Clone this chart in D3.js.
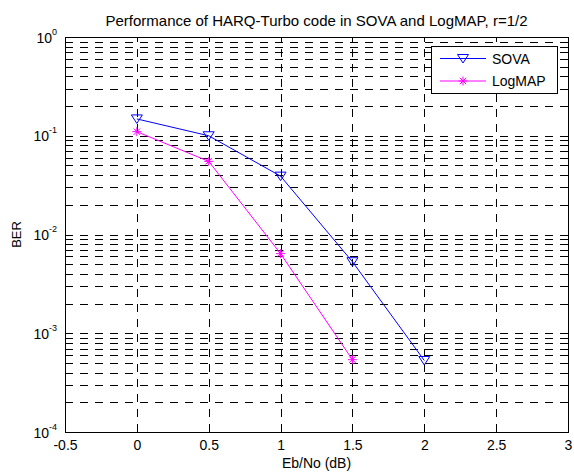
<!DOCTYPE html>
<html>
<head>
<meta charset="utf-8">
<script src="https://cdn.jsdelivr.net/npm/d3@7"></script>
<style>
  body { margin: 0; background: #fff; }
  text { font-family: "Liberation Sans", Arial, Helvetica, sans-serif; fill: #000; }
</style>
</head>
<body>
<div id="chart"></div>
<script>
// values
const ebnoSova = [0, 0.5, 1, 1.5, 2];
const berSova = [0.148, 0.100, 0.039, 0.0053, 0.00053];
const ebnoLogmap = [0, 0.5, 1, 1.5];
const berLogmap = [0.11, 0.055, 0.0064, 0.00054];

const seriesNames = ["SOVA", "LogMAP"];
const seriesColors = ["#0000ff", "#ff00ff"];

const xTicks = [-0.5, 0, 0.5, 1, 1.5, 2, 2.5, 3];
const xTickLabels = ["-0.5", "0", "0.5", "1", "1.5", "2", "2.5", "3"];
const yDecades = [1e-4, 1e-3, 1e-2, 1e-1, 1];
const yExponents = ["-4", "-3", "-2", "-1", "0"];

const svgWidth = 574;
const svgHeight = 472;
const margin = { top: 37, right: 6, bottom: 40, left: 65 };
const width = svgWidth - margin.left - margin.right;
const height = svgHeight - margin.top - margin.bottom;

const svg = d3.select("#chart")
  .append("svg")
  .attr("width", svgWidth)
  .attr("height", svgHeight);

svg.append("rect").attr("width", svgWidth).attr("height", svgHeight).attr("fill", "#fff");

const chartGroup = svg.append("g")
  .attr("transform", `translate(${margin.left}, ${margin.top})`);

const x = d3.scaleLinear().domain([-0.5, 3]).range([0, width]);
const y = d3.scaleLog().domain([1e-4, 1]).range([height, 0]);

// minor log ticks 2..9 in every decade
let yMinor = [];
yDecades.slice(0, -1).forEach(d => {
  for (let m = 2; m <= 9; m++) yMinor.push(m * d);
});

// grid (dashed)
const xGrid = chartGroup.append("g")
  .attr("transform", `translate(0, ${height})`)
  .call(d3.axisBottom(x).tickValues(xTicks.slice(1, -1)).tickSize(-height).tickFormat(""));
const yGrid = chartGroup.append("g")
  .call(d3.axisLeft(y).tickValues(yDecades.slice(1, -1).concat(yMinor)).tickSize(-width).tickFormat(""));
[xGrid, yGrid].forEach(g => {
  g.select(".domain").remove();
  g.selectAll("line")
    .attr("stroke", "#000")
    .attr("stroke-dasharray", "8,7")
    .attr("shape-rendering", "crispEdges");
});

// inside ticks on all four sides
function styleTicks(g) {
  g.select(".domain").remove();
  g.selectAll("line").attr("stroke", "#000").attr("shape-rendering", "crispEdges");
}
const xAxis = chartGroup.append("g")
  .attr("transform", `translate(0, ${height})`)
  .call(d3.axisBottom(x).tickValues(xTicks).tickSize(-5).tickFormat((d, i) => xTickLabels[i]));
styleTicks(xAxis);
xAxis.selectAll("text")
  .attr("y", 18)
  .attr("dy", null)
  .attr("font-size", 14)
  .attr("font-family", null);

chartGroup.append("g")
  .call(d3.axisTop(x).tickValues(xTicks).tickSize(-5).tickFormat(""))
  .call(styleTicks);

const yAxis = chartGroup.append("g")
  .call(d3.axisLeft(y).tickValues(yDecades).tickSize(-5).tickFormat(""));
styleTicks(yAxis);
chartGroup.append("g")
  .call(d3.axisLeft(y).tickValues(yMinor).tickSize(-3).tickFormat(""))
  .call(styleTicks);
chartGroup.append("g")
  .attr("transform", `translate(${width}, 0)`)
  .call(d3.axisRight(y).tickValues(yDecades).tickSize(-5).tickFormat(""))
  .call(styleTicks);
chartGroup.append("g")
  .attr("transform", `translate(${width}, 0)`)
  .call(d3.axisRight(y).tickValues(yMinor).tickSize(-3).tickFormat(""))
  .call(styleTicks);

// y labels 10^n
yAxis.selectAll(".tick").each(function(d, i) {
  const t = d3.select(this).append("text")
    .attr("x", -8)
    .attr("y", 5)
    .attr("text-anchor", "end")
    .attr("font-size", 14)
    .text("10");
  t.append("tspan")
    .attr("dy", -8)
    .attr("font-size", 9)
    .text(yExponents[i]);
});

// frame
chartGroup.append("rect")
  .attr("width", width)
  .attr("height", height)
  .attr("fill", "none")
  .attr("stroke", "#000")
  .attr("shape-rendering", "crispEdges");

// series
const line = d3.line().x(d => x(d[0])).y(d => y(d[1]));
const sovaData = ebnoSova.map((e, i) => [e, berSova[i]]);
const logmapData = ebnoLogmap.map((e, i) => [e, berLogmap[i]]);

const triangle = "M-5.5,-4L5.5,-4L0,4.5Z";
const star = "M-4.5,0L4.5,0M0,-4.5L0,4.5M-3.2,-3.2L3.2,3.2M-3.2,3.2L3.2,-3.2";

chartGroup.append("path")
  .datum(sovaData)
  .attr("d", line)
  .attr("fill", "none")
  .attr("stroke", seriesColors[0]);
chartGroup.selectAll(".sovaMark")
  .data(sovaData).enter()
  .append("path")
  .attr("transform", d => `translate(${x(d[0])}, ${y(d[1])})`)
  .attr("d", triangle)
  .attr("fill", "none")
  .attr("stroke", seriesColors[0]);

chartGroup.append("path")
  .datum(logmapData)
  .attr("d", line)
  .attr("fill", "none")
  .attr("stroke", seriesColors[1]);
chartGroup.selectAll(".logmapMark")
  .data(logmapData).enter()
  .append("path")
  .attr("transform", d => `translate(${x(d[0])}, ${y(d[1])})`)
  .attr("d", star)
  .attr("fill", "none")
  .attr("stroke", seriesColors[1]);

// legend
const legend = svg.append("g").attr("transform", "translate(431, 46)");
legend.append("rect")
  .attr("width", 126)
  .attr("height", 47)
  .attr("fill", "#fff")
  .attr("stroke", "#000")
  .attr("shape-rendering", "crispEdges");
const marks = [triangle, star];
seriesNames.forEach((name, i) => {
  const ly = 12.5 + i * 22.5;
  legend.append("line")
    .attr("x1", 9).attr("x2", 55)
    .attr("y1", ly).attr("y2", ly)
    .attr("stroke", seriesColors[i]);
  legend.append("path")
    .attr("transform", `translate(32, ${ly})`)
    .attr("d", marks[i])
    .attr("fill", "none")
    .attr("stroke", seriesColors[i]);
  legend.append("text")
    .attr("x", 61)
    .attr("y", ly + 5)
    .attr("font-size", 14)
    .text(name);
});

// titles
svg.append("text")
  .attr("x", margin.left + width / 2)
  .attr("y", 26)
  .attr("text-anchor", "middle")
  .attr("font-size", 15)
  .text("Performance of HARQ-Turbo code in SOVA and LogMAP, r=1/2");

svg.append("text")
  .attr("x", margin.left + width / 2)
  .attr("y", 468)
  .attr("text-anchor", "middle")
  .attr("font-size", 14)
  .text("Eb/No (dB)");

svg.append("text")
  .attr("transform", `translate(21, ${margin.top + height / 2}) rotate(-90)`)
  .attr("text-anchor", "middle")
  .attr("font-size", 13)
  .text("BER");
</script>
</body>
</html>
